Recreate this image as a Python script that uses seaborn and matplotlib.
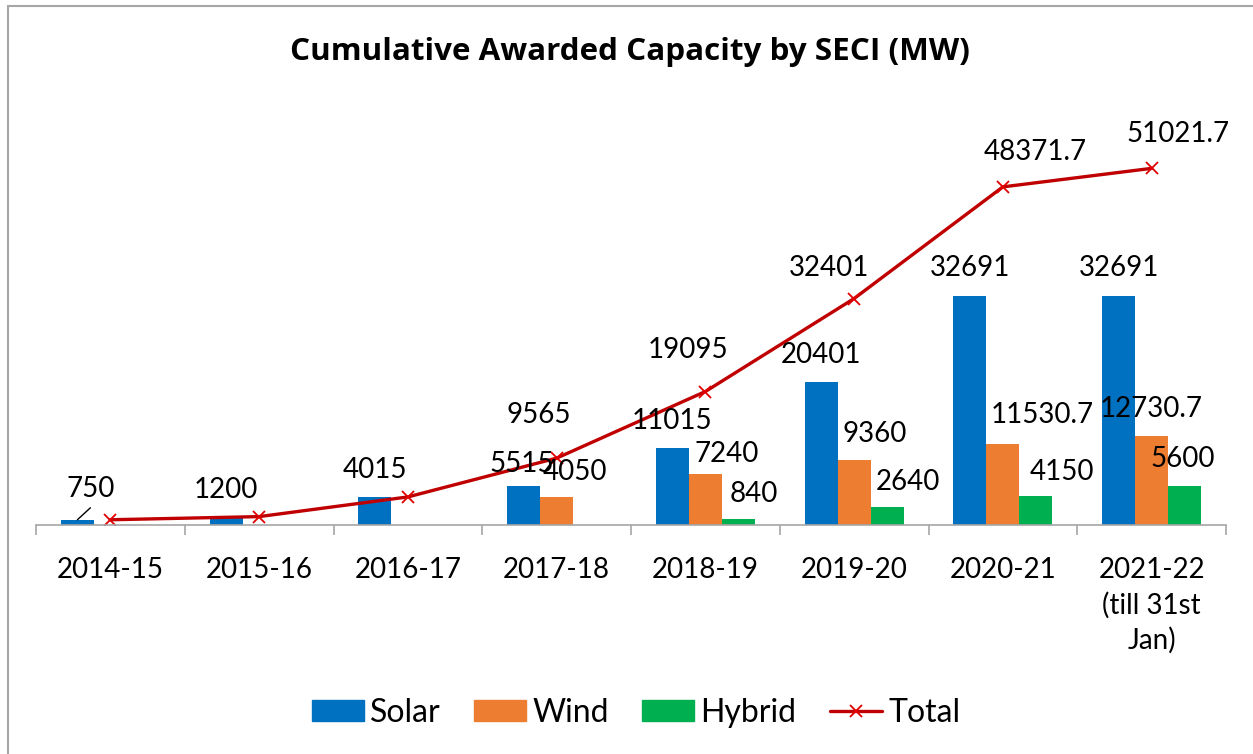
import numpy as np
import pandas as pd
import seaborn as sns
import matplotlib.pyplot as plt
from matplotlib.lines import Line2D
from matplotlib.patches import Patch

years = ['2014-15', '2015-16', '2016-17', '2017-18', '2018-19', '2019-20', '2020-21',
         '2021-22\n(till 31st\nJan)']
solar = [750, 1200, 4015, 5515, 11015, 20401, 32691, 32691]
wind = [None, None, None, 4050, 7240, 9360, 11530.7, 12730.7]
hybrid = [None, None, None, None, 840, 2640, 4150, 5600]
total = [750, 1200, 4015, 9565, 19095, 32401, 48371.7, 51021.7]

series = ['Solar', 'Wind', 'Hybrid']
colors = {'Solar': '#0070C0', 'Wind': '#ED7D31', 'Hybrid': '#00B050'}
line_color = '#C00000'

W, H = 1253, 754


def main():
    sns.set_theme(style='white')
    plt.rcParams['font.family'] = ['Lato', 'DejaVu Sans']
    plt.rcParams['text.color'] = 'black'

    rows = []
    for s, vals in zip(series, [solar, wind, hybrid]):
        for y, v in zip(years, vals):
            rows.append({'year': y, 'series': s, 'MW': v})
    df = pd.DataFrame(rows)

    fig = plt.figure(figsize=(W / 100, H / 100), dpi=100)
    ax = fig.add_axes([36 / W, 1 - 525 / H, 1190 / W, (525 - 105.6) / H])

    group_w = 0.665
    sns.barplot(data=df, x='year', y='MW', hue='series', order=years, hue_order=series,
                palette=colors, saturation=1, width=group_w, linewidth=0,
                errorbar=None, legend=False, ax=ax)
    xs = np.arange(len(years))
    sns.lineplot(x=xs, y=total, color=line_color, lw=2.4, marker='x', markersize=9,
                 markeredgewidth=1.3, markeredgecolor='#E00000', legend=False, ax=ax)

    ax.set_xlim(-0.5, len(years) - 0.5)
    ax.set_ylim(0, 60000)
    ax.set_yticks([])
    ax.set_xlabel('')
    ax.set_ylabel('')
    ax.set_xticks(xs)
    ax.set_xticklabels(years, fontsize=20, linespacing=1.4)
    ax.set_xticks(np.arange(-0.5, len(years)), minor=True)
    ax.tick_params(axis='x', which='major', length=0, pad=23, labelcolor='black')
    ax.tick_params(axis='x', which='minor', bottom=True, length=7, width=1.2,
                   color='#A6A6A6')
    sns.despine(ax=ax, left=True)
    ax.spines['bottom'].set_color('#A6A6A6')
    ax.spines['bottom'].set_linewidth(1.2)

    # label offsets in pixels (dx, height of text centre above the point)
    solar_off = [(13, 33), (0, 28.5), (0, 29), (-2, 24.5), (0, 29), (0, 29), (0, 30), (0, 30)]
    wind_off = [None, None, None, (18, 27), (21, 22), (21, 27.6), (39, 31), (0, 29)]
    hybrid_off = [None, None, None, None, (15, 27), (21, 26.5), (26, 26), (-1.5, 29)]
    total_off = [None, None, None, (-18, 45), (-17, 43.5), (-25, 33), (32, 37), (26, 36)]

    bw = group_w / 3

    def put(x, v, off):
        dx, dy = off
        ax.annotate(f'{v:g}', xy=(x, v), xytext=(dx * 0.72, (dy - 10) * 0.72),
                    textcoords='offset points', ha='center', va='baseline',
                    fontsize=20, color='black')

    for j, (vals, offs) in enumerate([(solar, solar_off), (wind, wind_off),
                                      (hybrid, hybrid_off)]):
        for i, (v, off) in enumerate(zip(vals, offs)):
            if v is None or off is None:
                continue
            put(i + (j - 1) * bw, v, off)
    for i, (v, off) in enumerate(zip(total, total_off)):
        if off is not None:
            put(i, v, off)

    # leader line of the moved first label
    ax.annotate('', xy=(-bw, solar[0]), xytext=(13 * 0.72, 12 * 0.72),
                textcoords='offset points',
                arrowprops=dict(arrowstyle='-', color='black', lw=1, shrinkA=0, shrinkB=0))

    fig.text(630 / W, 1 - 60 / H, 'Cumulative Awarded Capacity by SECI (MW)',
             ha='center', va='baseline', fontsize=22.6, fontweight='bold',
             family=['Open Sans', 'DejaVu Sans'], color='black')

    handles = [Patch(color=colors[s]) for s in series]
    handles.append(Line2D([], [], color=line_color, lw=2.4, marker='x', markersize=9,
                          markeredgewidth=1.3, markeredgecolor='#E00000'))
    fig.legend(handles, series + ['Total'], loc='center',
               bbox_to_anchor=(636 / W, 1 - 712.5 / H), ncol=4, frameon=False,
               fontsize=23, handlelength=1.63, handleheight=0.66, handletextpad=0.19,
               columnspacing=1.05, borderpad=0, borderaxespad=0, labelcolor='black')

    # chart area border (left and top edges are visible)
    fig.add_artist(Line2D([7.5 / W, 7.5 / W], [0, 1 - 5.5 / H], color='#A6A6A6', lw=1.5,
                          transform=fig.transFigure))
    fig.add_artist(Line2D([7.5 / W, 1], [1 - 5.5 / H, 1 - 5.5 / H], color='#A6A6A6',
                          lw=1.5, transform=fig.transFigure))

    fig.savefig('out.png', dpi=100)


if __name__ == '__main__':
    main()
